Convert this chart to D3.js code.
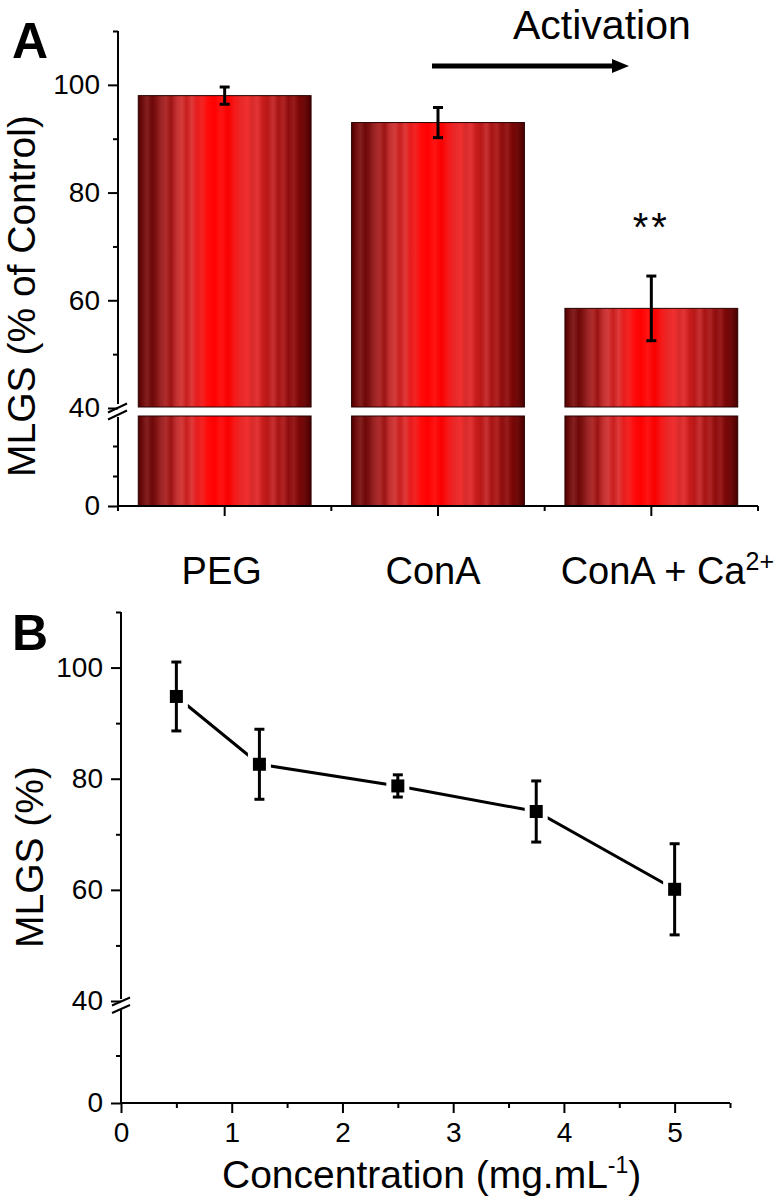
<!DOCTYPE html>
<html><head><meta charset="utf-8">
<script src="https://cdn.jsdelivr.net/npm/d3@7"></script>
<style>
body{margin:0;background:#fff}
svg{display:block}
text{font-family:"Liberation Sans",Arial,Helvetica,sans-serif;fill:#000}
</style>
</head><body>
<svg id="c" width="780" height="1199"></svg>
<script>
// ---------- DATA ----------
const categories = ["PEG", "ConA", "ConA + Ca"];
const categorySup = ["", "", "2+"];
const barValues = [98, 93, 58.5];
const barErrors = [1.6, 2.8, 6.0];

const concentration = [0.5, 1.25, 2.5, 3.75, 5];
const mlgs = [94.8, 82.6, 78.7, 74.1, 60.1];
const mlgsError = [6.2, 6.3, 2.0, 5.5, 8.2];

const yMajorUpper = [40, 60, 80, 100];
const yMinorUpper = [50, 70, 90, 110];
const yMajorLowerA = [0];
const yMinorLowerA = [10, 20];
const yMajorLowerB = [0];
const yMinorLowerB = [20];
const xMajorB = [0, 1, 2, 3, 4, 5];
const xMinorB = [0.5, 1.5, 2.5, 3.5, 4.5, 5.5];

// ---------- SETUP ----------
const svg = d3.select("#c");
const defs = svg.append("defs");
const grad = defs.append("linearGradient").attr("id", "barGrad")
  .attr("x1", "0%").attr("x2", "100%").attr("y1", "0%").attr("y2", "0%");
const stripeStops = [
  [0, "#4e0000"], [0.02, "#6a0a0a"], [0.05, "#852020"], [0.08, "#6e0808"], [0.10, "#7c1010"],
  [0.13, "#9a2424"], [0.16, "#b02c2c"], [0.19, "#9c1414"], [0.22, "#c23030"], [0.25, "#d43c3c"],
  [0.28, "#c81e1e"], [0.31, "#e03a3a"], [0.34, "#e61c1c"], [0.37, "#f42424"], [0.40, "#ff0c0c"],
  [0.44, "#ff0000"], [0.48, "#ff1414"], [0.52, "#fa0000"], [0.56, "#f51a1a"], [0.60, "#e82a2a"],
  [0.63, "#f03030"], [0.66, "#d82a2a"], [0.69, "#e23434"], [0.72, "#c81c1c"], [0.75, "#b81818"],
  [0.78, "#c83232"], [0.81, "#a81414"], [0.84, "#b02424"], [0.87, "#8e0c0c"], [0.90, "#981c1c"],
  [0.93, "#7a0606"], [0.96, "#6e0a0a"], [1, "#4a0000"]
];
stripeStops.forEach(s => grad.append("stop").attr("offset", s[0]).attr("stop-color", s[1]));

function styleAxis(g, fs) {
  g.select(".domain").remove();
  g.selectAll(".tick line").attr("stroke", "#000").attr("stroke-width", 2);
  g.selectAll(".tick text").attr("font-size", fs).attr("fill", "#000")
    .attr("font-family", '"Liberation Sans", Arial, sans-serif');
}

// ---------- PANEL A ----------
const xA = d3.scaleBand().domain(categories).range([118, 758]).paddingInner(0.19).paddingOuter(0.095);
const yAUp = d3.scaleLinear().domain([40, 110]).range([408, 31]);
const yALow = d3.scaleLinear().domain([0, 30]).range([506, 416]);
const gA = svg.append("g");

const barsA = categories.map((c, i) => ({c, v: barValues[i], e: barErrors[i]}));
gA.selectAll("rect.up").data(barsA).join("rect")
  .attr("x", d => xA(d.c)).attr("width", xA.bandwidth())
  .attr("y", d => yAUp(d.v)).attr("height", d => yAUp(40) - 1 - yAUp(d.v))
  .attr("fill", "url(#barGrad)").attr("stroke", "#2a0000").attr("stroke-width", 1);
gA.selectAll("rect.low").data(barsA).join("rect")
  .attr("x", d => xA(d.c)).attr("width", xA.bandwidth())
  .attr("y", yALow(30)).attr("height", yALow(0) - yALow(30))
  .attr("fill", "url(#barGrad)").attr("stroke", "#2a0000").attr("stroke-width", 1);

const ebA = gA.selectAll("g.eb").data(barsA).join("g");
ebA.append("line")
  .attr("x1", d => xA(d.c) + xA.bandwidth() / 2).attr("x2", d => xA(d.c) + xA.bandwidth() / 2)
  .attr("y1", d => yAUp(d.v + d.e)).attr("y2", d => yAUp(d.v - d.e))
  .attr("stroke", "#000").attr("stroke-width", 3);
[1, -1].forEach(s => {
  ebA.append("line")
    .attr("x1", d => xA(d.c) + xA.bandwidth() / 2 - 5).attr("x2", d => xA(d.c) + xA.bandwidth() / 2 + 5)
    .attr("y1", d => yAUp(d.v + s * d.e)).attr("y2", d => yAUp(d.v + s * d.e))
    .attr("stroke", "#000").attr("stroke-width", 3);
});

const axAUp = gA.append("g").attr("transform", "translate(118,0)")
  .call(d3.axisLeft(yAUp).tickValues(yMajorUpper).tickSize(10).tickPadding(8));
styleAxis(axAUp, 28);
const axAUpMinor = gA.append("g").attr("transform", "translate(118,0)")
  .call(d3.axisLeft(yAUp).tickValues(yMinorUpper).tickSize(5).tickFormat(""));
styleAxis(axAUpMinor, 28);
const axALow = gA.append("g").attr("transform", "translate(118,0)")
  .call(d3.axisLeft(yALow).tickValues(yMajorLowerA).tickSize(10).tickPadding(8));
styleAxis(axALow, 28);
const axALowMinor = gA.append("g").attr("transform", "translate(118,0)")
  .call(d3.axisLeft(yALow).tickValues(yMinorLowerA).tickSize(5).tickFormat(""));
styleAxis(axALowMinor, 28);
gA.append("line").attr("x1", 118).attr("x2", 118).attr("y1", yAUp(110)).attr("y2", yAUp(40) - 4)
  .attr("stroke", "#000").attr("stroke-width", 2);
gA.append("line").attr("x1", 118).attr("x2", 118).attr("y1", yALow(30) + 1).attr("y2", yALow(0))
  .attr("stroke", "#000").attr("stroke-width", 2);
[yAUp(40) - 0.5, yALow(30) - 1.5].forEach(y => {
  gA.append("line").attr("x1", 108).attr("y1", y + 5).attr("x2", 127).attr("y2", y - 4)
    .attr("stroke", "#000").attr("stroke-width", 2);
});

gA.append("line").attr("x1", 118).attr("x2", 758).attr("y1", yALow(0)).attr("y2", yALow(0))
  .attr("stroke", "#000").attr("stroke-width", 2);
const axAx = gA.append("g").attr("transform", `translate(0,${yALow(0)})`)
  .call(d3.axisBottom(xA).tickSize(10).tickFormat(""));
styleAxis(axAx, 28);
const bounds = [118].concat(categories.map(c => xA(c) + xA.bandwidth() + xA.step() * xA.paddingInner() / 2));
gA.selectAll("line.bnd").data(bounds).join("line")
  .attr("x1", d => d).attr("x2", d => d).attr("y1", yALow(0)).attr("y2", yALow(0) + 5)
  .attr("stroke", "#000").attr("stroke-width", 2);

// category labels
const labelShift = [-3, -5, 16];
categories.forEach((c, i) => {
  const t = gA.append("text")
    .attr("x", xA(c) + xA.bandwidth() / 2 + labelShift[i]).attr("y", 584)
    .attr("text-anchor", "middle").attr("font-size", 38);
  t.append("tspan").text(c);
  if (categorySup[i]) t.append("tspan").attr("font-size", 25).attr("dy", -14).text(categorySup[i]);
});

gA.append("text").attr("x", xA(categories[2]) + xA.bandwidth() / 2).attr("y", 241)
  .attr("text-anchor", "middle").attr("font-size", 40).attr("letter-spacing", 3).text("**");

gA.append("line").attr("x1", 432).attr("x2", 614).attr("y1", 66).attr("y2", 66)
  .attr("stroke", "#000").attr("stroke-width", 5);
gA.append("path").attr("d", "M612,59 L629,66 L612,73 Z").attr("fill", "#000");
gA.append("text").attr("x", 513).attr("y", 39).attr("font-size", 41).text("Activation");

gA.append("text").attr("transform", "translate(35,296) rotate(-90)")
  .attr("text-anchor", "middle").attr("font-size", 39).text("MLGS (% of Control)");
gA.append("text").attr("x", 12).attr("y", 58).attr("font-size", 50).attr("font-weight", "bold").text("A");

// ---------- PANEL B ----------
const xB = d3.scaleLinear().domain([0, 5.5]).range([121, 730]);
const yBUp = d3.scaleLinear().domain([40, 110]).range([1001, 612]);
const yBLow = d3.scaleLinear().domain([0, 40]).range([1103, 1008]);
const gB = svg.append("g");

const axBUp = gB.append("g").attr("transform", "translate(121,0)")
  .call(d3.axisLeft(yBUp).tickValues(yMajorUpper).tickSize(10).tickPadding(8));
styleAxis(axBUp, 28);
const axBUpMinor = gB.append("g").attr("transform", "translate(121,0)")
  .call(d3.axisLeft(yBUp).tickValues(yMinorUpper).tickSize(5).tickFormat(""));
styleAxis(axBUpMinor, 28);
const axBLow = gB.append("g").attr("transform", "translate(121,0)")
  .call(d3.axisLeft(yBLow).tickValues(yMajorLowerB).tickSize(10).tickPadding(8));
styleAxis(axBLow, 28);
const axBLowMinor = gB.append("g").attr("transform", "translate(121,0)")
  .call(d3.axisLeft(yBLow).tickValues(yMinorLowerB).tickSize(5).tickFormat(""));
styleAxis(axBLowMinor, 28);
gB.append("line").attr("x1", 121).attr("x2", 121).attr("y1", yBUp(110)).attr("y2", yBUp(40) - 2)
  .attr("stroke", "#000").attr("stroke-width", 2);
gB.append("line").attr("x1", 121).attr("x2", 121).attr("y1", yBLow(40) + 2).attr("y2", yBLow(0))
  .attr("stroke", "#000").attr("stroke-width", 2);
[yBUp(40) + 0.5, yBLow(40) + 1].forEach(y => {
  gB.append("line").attr("x1", 112).attr("y1", y + 4).attr("x2", 130).attr("y2", y - 4)
    .attr("stroke", "#000").attr("stroke-width", 2);
});

gB.append("line").attr("x1", 121).attr("x2", 730).attr("y1", yBLow(0)).attr("y2", yBLow(0))
  .attr("stroke", "#000").attr("stroke-width", 2);
const axBx = gB.append("g").attr("transform", `translate(0,${yBLow(0)})`)
  .call(d3.axisBottom(xB).tickValues(xMajorB).tickSize(10).tickPadding(9).tickFormat(d3.format("d")));
styleAxis(axBx, 28);
const axBxMinor = gB.append("g").attr("transform", `translate(0,${yBLow(0)})`)
  .call(d3.axisBottom(xB).tickValues(xMinorB).tickSize(5).tickFormat(""));
styleAxis(axBxMinor, 28);

const pts = concentration.map((c, i) => ({x: c, y: mlgs[i], e: mlgsError[i]}));
gB.append("path").datum(pts)
  .attr("d", d3.line().x(d => xB(d.x)).y(d => yBUp(d.y)))
  .attr("fill", "none").attr("stroke", "#000").attr("stroke-width", 3);
const ms = 13;
gB.selectAll("rect.halo").data(pts).join("rect")
  .attr("x", d => xB(d.x) - ms / 2 - 5).attr("y", d => yBUp(d.y) - ms / 2 - 5)
  .attr("width", ms + 10).attr("height", ms + 10).attr("fill", "#fff");
const ebB = gB.selectAll("g.eb").data(pts).join("g");
ebB.append("line").attr("x1", d => xB(d.x)).attr("x2", d => xB(d.x))
  .attr("y1", d => yBUp(d.y + d.e)).attr("y2", d => yBUp(d.y - d.e))
  .attr("stroke", "#000").attr("stroke-width", 3);
[1, -1].forEach(s => {
  ebB.append("line").attr("x1", d => xB(d.x) - 5).attr("x2", d => xB(d.x) + 5)
    .attr("y1", d => yBUp(d.y + s * d.e)).attr("y2", d => yBUp(d.y + s * d.e))
    .attr("stroke", "#000").attr("stroke-width", 3);
});
gB.selectAll("rect.mk").data(pts).join("rect")
  .attr("x", d => xB(d.x) - ms / 2).attr("y", d => yBUp(d.y) - ms / 2)
  .attr("width", ms).attr("height", ms).attr("fill", "#000");

const xt = gB.append("text").attr("x", 222).attr("y", 1188).attr("font-size", 39);
xt.append("tspan").text("Concentration (mg.mL");
xt.append("tspan").attr("font-size", 23).attr("dy", -15).text("-1");
xt.append("tspan").attr("dy", 15).text(")");
gB.append("text").attr("transform", "translate(43,857) rotate(-90)")
  .attr("text-anchor", "middle").attr("font-size", 39).text("MLGS (%)");
gB.append("text").attr("x", 12).attr("y", 650).attr("font-size", 50).attr("font-weight", "bold").text("B");
</script>
</body></html>
